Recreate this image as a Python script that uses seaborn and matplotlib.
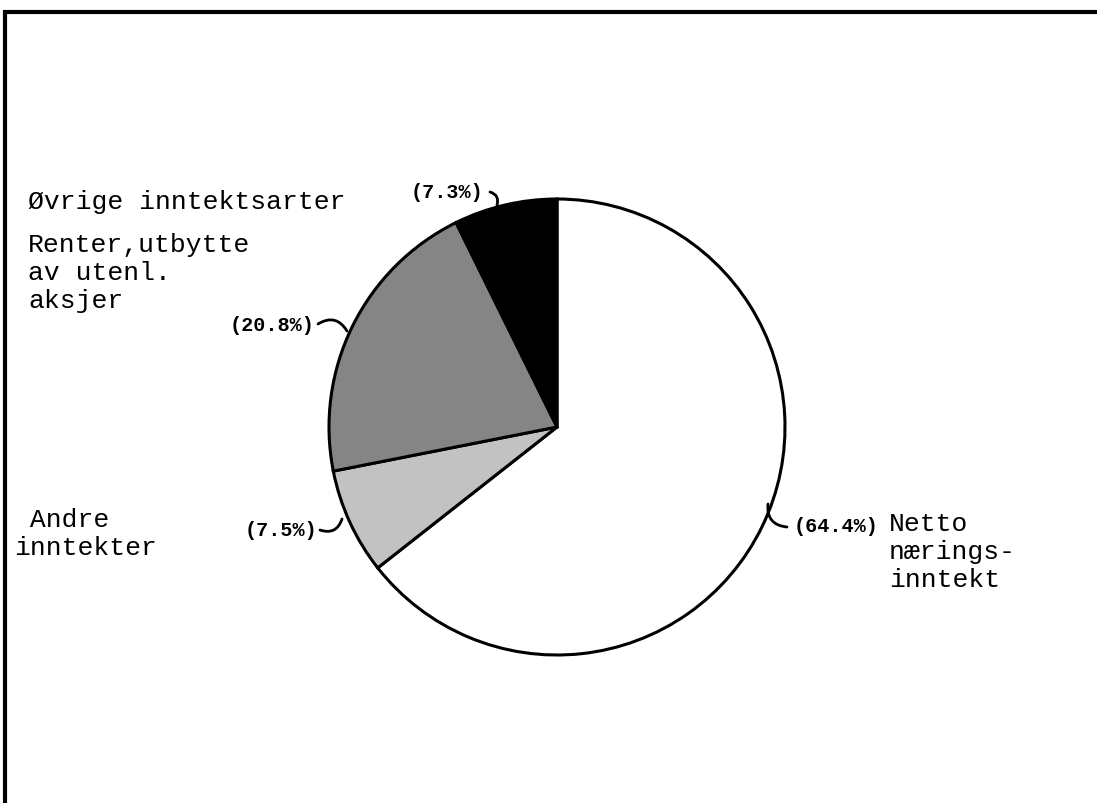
import matplotlib
matplotlib.use("Agg")
import matplotlib.pyplot as plt
import seaborn as sns

# data (clockwise from top)
categories = ["Netto\nnærings-\ninntekt", " Andre\ninntekter",
              "Renter,utbytte\nav utenl.\naksjer", "Øvrige inntektsarter"]
shares = [64.4, 7.5, 20.8, 7.3]
pct_labels = ["(64.4%)", "(7.5%)", "(20.8%)", "(7.3%)"]
colors = ["white", "#c2c2c2", "#858585", "black"]

sns.set_theme(style="white")
plt.rcParams["font.family"] = ["Liberation Mono", "DejaVu Sans Mono"]
plt.rcParams["text.color"] = "black"

W, H = 1097, 804
fig = plt.figure(figsize=(W / 100, H / 100), dpi=100)
ax = fig.add_axes([0, 0, 1, 1])

cx, cy, r = 557, H - 428, 228
ax.pie(shares, colors=colors, startangle=90, counterclock=False,
       center=(cx, cy), radius=r, frame=True,
       wedgeprops=dict(edgecolor="black", linewidth=2.2))
ax.set_xlim(0, W)
ax.set_ylim(0, H)
ax.set_aspect("equal")
ax.axis("off")

# frame (top and left edges)
ax.plot([5, 5, W], [0, H - 13, H - 13], color="black", lw=3, solid_joinstyle="miter")

# category text (top-left anchor in pixel rows)
cat_pos = [(889, 512), (14, 508), (28, 233), (28, 190)]
for txt, (x, y) in zip(categories, cat_pos):
    ax.text(x, H - y, txt, fontsize=19, ha="left", va="top", linespacing=1.22)

# percentage labels with leader hooks
pct_pos = [(836, 527), (281, 531), (272, 326), (447, 193)]
hook_from = [(787, 528), (320, 531), (318, 325), (490, 193)]
hook_to = [(768, 505), (342, 520), (347, 332), (497, 206)]
rads = [-0.5, 0.5, -0.5, -0.5]
for lab, (x, y), p0, p1, rad in zip(pct_labels, pct_pos, hook_from, hook_to, rads):
    ax.text(x, H - y, lab, fontsize=14.5, fontweight="bold", ha="center", va="center")
    ax.annotate("", xy=(p1[0], H - p1[1]), xytext=(p0[0], H - p0[1]),
                arrowprops=dict(arrowstyle="-", color="black", lw=2,
                                connectionstyle=f"arc3,rad={rad}",
                                shrinkA=0, shrinkB=0))

fig.savefig("out.png", dpi=100, facecolor="white")
